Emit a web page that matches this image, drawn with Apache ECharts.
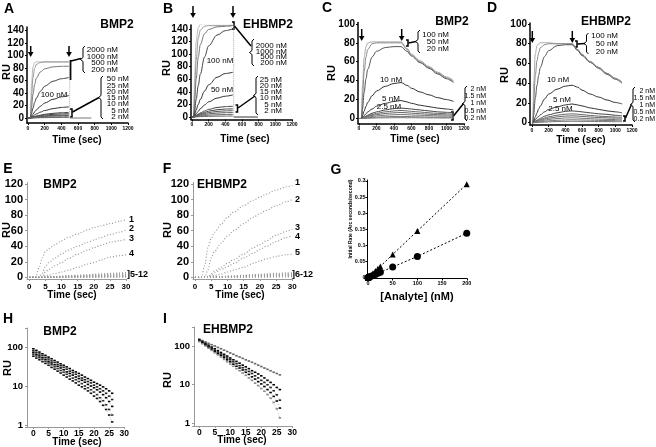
<!DOCTYPE html>
<html lang="en">
<head>
<meta charset="UTF-8">
<title>BMP2 / EHBMP2 binding</title>
<script src="https://cdn.jsdelivr.net/npm/echarts@6/dist/echarts.min.js"></script>
<style>
  html, body { margin: 0; padding: 0; background: #fff; }
  #main { width: 656px; height: 447px; }
</style>
</head>
<body>
<div id="main"></div>
<script>
// ---------- A : BMP2, high density ----------
const aTime = [0, 30, 40, 60, 80, 100, 150, 200, 300, 400, 490];
const aRU = [
  [0, 0, 50, 82, 89, 90, 90, 90, 90, 90, 90],        // 2000 nM
  [0, 0, 30, 65, 80, 86, 89, 90, 90, 90, 90],        // 1000
  [0, 0, 15, 38, 54, 64, 74, 79, 82, 83, 83],        // 500
  [0, 0, 6, 16, 25, 32, 43, 51, 59, 63, 65],         // 200
  [0, 0, 2, 6, 10, 13, 19, 24, 30, 34, 36],          // 100
  [0, 0, 1, 3, 5, 6.5, 9.5, 12, 15, 17, 18],         // 50
  [0, 0, 0.5, 1.5, 2.5, 3.2, 4.7, 6, 7.5, 8.5, 9],   // 25
  [0, 0, 0.4, 1.2, 2, 2.6, 3.7, 4.7, 5.9, 6.6, 7],   // 20
  [0, 0, 0.3, 0.9, 1.4, 1.9, 2.7, 3.4, 4.2, 4.7, 5], // 15
  [0, 0, 0.2, 0.7, 1.1, 1.5, 2.1, 2.7, 3.3, 3.7, 4], // 10
  [0, 0, 0.1, 0.3, 0.5, 0.7, 1, 1.3, 1.6, 1.8, 2],   // 5
  [0, 0, 0, 0.1, 0.2, 0.3, 0.5, 0.6, 0.8, 0.9, 1]    // 2
];
const aDrop = [[500, 91], [500, 0]];
const aBase = [[500, 0], [760, 0]];

// ---------- B : EHBMP2, high density ----------
const bTime = [0, 20, 30, 50, 75, 100, 150, 200, 300, 400, 490];
const bRU = [
  [0, 0, 60, 120, 142, 147, 148, 148, 148, 148, 148], // 2000 nM
  [0, 0, 35, 90, 125, 138, 144, 145, 145, 145, 146],  // 1000
  [0, 0, 20, 60, 95, 115, 132, 139, 143, 144, 145],   // 500
  [0, 0, 8, 28, 50, 68, 95, 113, 130, 137, 140],      // 200
  [0, 0, 3, 11, 20, 28, 41, 51, 63, 69, 71],          // 100
  [0, 0, 1, 5, 9, 13, 19, 24, 30, 33, 35],            // 50
  [0, 0, 0.5, 2.5, 4.5, 6.5, 9.5, 12, 15, 16.5, 17],  // 25
  [0, 0, 0.4, 2, 3.5, 5, 7.3, 9.2, 11.5, 12.6, 13],   // 20
  [0, 0, 0.3, 1.5, 2.7, 3.8, 5.6, 7, 8.8, 9.7, 10],   // 15
  [0, 0, 0.2, 1, 1.9, 2.7, 3.9, 4.9, 6.2, 6.8, 7],    // 10
  [0, 0, 0.1, 0.6, 1.1, 1.5, 2.2, 2.8, 3.5, 3.9, 4],  // 5
  [0, 0, 0, 0.2, 0.4, 0.6, 0.8, 1, 1.3, 1.4, 1.5]     // 2
];
const bDrop = [[500, 148], [500, 0]];
const bBase = [[500, 0], [790, 0]];

// ---------- C : BMP2, low density ----------
const cTime = [0, 30, 40, 60, 80, 100, 150, 200, 300, 400, 480, 550, 600, 700, 800, 900, 1000, 1080];
const cRU = [
  [0, 0, 35, 65, 76, 80, 81, 81, 81, 81, 81, 74, 68, 61, 55, 49, 44, 40],        // 100 nM
  [0, 0, 22, 50, 65, 73, 79, 80, 80, 80, 80, 73, 67, 60, 54, 48, 43, 39],        // 50
  [0, 0, 10, 28, 42, 52, 65, 71, 75, 76, 76, 71, 66, 59, 53, 47, 42, 38],        // 20
  [0, 0, 3, 8, 13, 17, 24, 29, 34, 37, 38, 35, 32, 28, 25, 22, 20, 18],          // 10
  [0, 0, 1, 3, 5, 7, 10, 13, 16, 18, 19, 17.5, 16, 14, 12.5, 11, 10, 9],         // 5
  [0, 0, 0.5, 1.5, 2.5, 3.5, 5.5, 7, 9, 10.5, 11, 10.5, 10, 9, 8, 7, 6.5, 6],    // 2.5
  [0, 0, 0.4, 1.2, 2, 2.8, 4.2, 5.4, 7, 8, 8.5, 8, 7.5, 6.8, 6, 5.4, 5, 4.5],    // 2
  [0, 0, 0.3, 0.9, 1.5, 2.1, 3.2, 4.1, 5.3, 6, 6.4, 6, 5.6, 5, 4.5, 4, 3.7, 3.4],// 1.5
  [0, 0, 0.2, 0.6, 1, 1.4, 2.1, 2.7, 3.5, 4, 4.3, 4, 3.7, 3.4, 3, 2.7, 2.5, 2.3],// 1
  [0, 0, 0.1, 0.3, 0.5, 0.7, 1.1, 1.4, 1.8, 2.1, 2.2, 2.1, 1.9, 1.7, 1.5, 1.4, 1.3, 1.2], // 0.5
  [0, 0, 0, 0.1, 0.2, 0.3, 0.4, 0.6, 0.7, 0.8, 0.9, 0.8, 0.8, 0.7, 0.6, 0.6, 0.5, 0.5]    // 0.2
];

// ---------- D : EHBMP2, low density ----------
const dTime = [0, 10, 20, 40, 60, 80, 100, 150, 200, 300, 400, 480, 550, 600, 700, 800, 900, 1000, 1080];
const dRU = [
  [0, 0, 40, 70, 78, 80, 81, 81, 81, 80, 80, 80, 74, 69, 62, 56, 50, 45, 41],         // 100 nM
  [0, 0, 20, 48, 63, 71, 76, 79, 80, 80, 80, 80, 74, 69, 62, 56, 50, 45, 41],         // 50
  [0, 0, 8, 25, 38, 48, 56, 67, 73, 78, 79, 79, 73, 68, 61, 55, 49, 44, 40],          // 20
  [0, 0, 2, 6, 10, 14, 17, 24, 29, 34, 37, 38, 36, 33, 29, 26, 23, 20.5, 19],         // 10
  [0, 0, 1, 3, 5, 6.5, 8, 11, 13.5, 16, 18, 19, 18, 17, 15, 13.5, 12, 11, 10],        // 5
  [0, 0, 0.5, 1.5, 2.5, 3.5, 4.5, 6.5, 8, 10, 11.5, 12, 11.5, 11, 10, 9, 8.5, 7.5, 7], // 2.5
  [0, 0, 0.4, 1.2, 2, 2.7, 3.4, 4.8, 6, 7.6, 8.6, 9, 8.6, 8.2, 7.4, 6.7, 6.2, 5.8, 5.5], // 2
  [0, 0, 0.3, 0.9, 1.5, 2, 2.6, 3.7, 4.6, 5.9, 6.7, 7, 6.7, 6.4, 5.8, 5.3, 4.9, 4.6, 4.4], // 1.5
  [0, 0, 0.2, 0.6, 1, 1.4, 1.8, 2.6, 3.3, 4.2, 4.8, 5, 4.8, 4.5, 4.1, 3.7, 3.4, 3.2, 3],   // 1
  [0, 0, 0.1, 0.4, 0.6, 0.8, 1, 1.5, 1.9, 2.5, 2.8, 3, 2.9, 2.8, 2.6, 2.4, 2.2, 2.1, 2],   // 0.5
  [0, 0, 0, 0.2, 0.3, 0.4, 0.5, 0.7, 0.9, 1.2, 1.4, 1.5, 1.4, 1.4, 1.3, 1.2, 1.1, 1.05, 1] // 0.2
];

// ---------- E / F : initial association (first 30 s) ----------
const eTime = [0, 2, 3, 4, 5, 6, 8, 10, 12, 15, 18, 20, 22, 25, 28, 30];
const eRU = [
  [0, 0, 12, 25, 33, 37, 42, 47, 51, 56, 61, 64, 66, 69, 72, 74],
  [0, 0, 0, 5, 14, 19, 25, 30, 35, 40, 45, 48, 51, 55, 58, 61],
  [0, 0, 0, 0, 7, 10, 15, 19, 24, 30, 35, 38, 41, 45, 47, 49],
  [0, 0, 0, 0, 2, 3, 5, 7, 9, 13, 17, 19, 22, 26, 28, 29],
  [0, 0, 0, 0, 0.5, 0.8, 1.2, 1.6, 2, 2.8, 3.5, 4, 4.5, 5.2, 5.8, 6.2],
  [0, 0, 0, 0, 0.4, 0.6, 1, 1.3, 1.6, 2.2, 2.8, 3.2, 3.6, 4.2, 4.7, 5],
  [0, 0, 0, 0, 0.3, 0.5, 0.8, 1, 1.3, 1.8, 2.2, 2.6, 2.9, 3.4, 3.8, 4],
  [0, 0, 0, 0, 0.2, 0.4, 0.6, 0.8, 1, 1.4, 1.8, 2, 2.3, 2.7, 3, 3.2],
  [0, 0, 0, 0, 0.2, 0.3, 0.5, 0.6, 0.8, 1, 1.3, 1.5, 1.7, 2, 2.2, 2.4],
  [0, 0, 0, 0, 0.1, 0.2, 0.3, 0.4, 0.5, 0.7, 0.9, 1, 1.1, 1.3, 1.5, 1.6],
  [0, 0, 0, 0, 0.1, 0.1, 0.2, 0.2, 0.3, 0.4, 0.5, 0.6, 0.7, 0.8, 0.9, 1],
  [0, 0, 0, 0, 0, 0.1, 0.1, 0.1, 0.2, 0.2, 0.3, 0.3, 0.4, 0.4, 0.5, 0.5]
];
const fRU = [
  [0, 0, 15, 38, 50, 58, 68, 77, 84, 92, 99, 103, 107, 112, 116, 118],
  [0, 0, 0, 10, 25, 33, 44, 53, 60, 69, 77, 82, 86, 92, 97, 100],
  [0, 0, 0, 0, 5, 8, 13, 18, 23, 30, 38, 42, 47, 54, 59, 62],
  [0, 0, 0, 0, 3, 6, 10, 14, 18, 25, 31, 36, 40, 46, 51, 54],
  [0, 0, 0, 0, 1.5, 2.5, 4.5, 7, 9.5, 13, 18, 21, 24, 27, 29, 30],
  [0, 0, 0, 0, 0.5, 0.8, 1.2, 1.6, 2, 2.8, 3.5, 4, 4.5, 5.2, 5.8, 6],
  [0, 0, 0, 0, 0.4, 0.6, 1, 1.3, 1.6, 2.2, 2.8, 3.2, 3.6, 4.2, 4.6, 5],
  [0, 0, 0, 0, 0.3, 0.5, 0.8, 1, 1.3, 1.8, 2.2, 2.6, 2.9, 3.4, 3.8, 4],
  [0, 0, 0, 0, 0.2, 0.4, 0.6, 0.8, 1, 1.4, 1.8, 2, 2.3, 2.7, 3, 3.2],
  [0, 0, 0, 0, 0.2, 0.3, 0.5, 0.6, 0.8, 1, 1.3, 1.5, 1.7, 2, 2.2, 2.4],
  [0, 0, 0, 0, 0.1, 0.2, 0.3, 0.4, 0.5, 0.7, 0.9, 1, 1.1, 1.3, 1.5, 1.6],
  [0, 0, 0, 0, 0, 0.1, 0.1, 0.2, 0.2, 0.3, 0.4, 0.5, 0.5, 0.6, 0.7, 0.8]
];

// ---------- G : initial rate vs analyte ----------
const gConc = [0, 0.2, 0.5, 1, 1.5, 2, 2.5, 5, 10, 15, 20, 25, 50, 100, 200];
const gEHBMP2 = [0, 0.0003, 0.0007, 0.0014, 0.002, 0.003, 0.0035, 0.007, 0.014, 0.021, 0.028, 0.035, 0.072, 0.145, 0.29];
const gBMP2 = [0, 0.0002, 0.0004, 0.0007, 0.001, 0.0014, 0.0017, 0.0035, 0.007, 0.010, 0.0135, 0.017, 0.033, 0.066, 0.138];

// ---------- H / I : dissociation, log scale ----------
const hTime = [0, 1, 2, 3, 4, 5, 6, 7, 8, 9, 10, 11, 12, 13, 14, 15, 16, 17, 18, 19, 20, 21, 22, 23, 24, 25, 26];
const hRU = [
  [90, 82, 74, 67, 61, 55, 50, 45, 41, 37, 34, 31, 28, 25, 23, 21, 19, 17, 15.5, 14, 12.5, 11.5, 10.5, 9.5, 8.5, 7.5, 6.5],
  [80, 73, 66, 60, 54, 49, 44, 40, 36, 33, 30, 27, 24, 22, 20, 18, 16, 14.5, 13, 12, 10.5, 9.5, 8.5, 7.5, 6.5, 5.5, 4.5],
  [72, 65, 59, 53, 48, 43, 39, 35, 32, 29, 26, 23, 21, 19, 17, 15.5, 14, 12.5, 11, 10, 9, 8, 7, 6, 5, 4, 3],
  [65, 59, 53, 48, 43, 39, 35, 31, 28, 25, 22.5, 20, 18, 16, 14.5, 13, 11.5, 10, 9, 8, 7, 6, 5, 4.2, 3.3, 2.5, 1.8],
  [58, 52, 47, 42, 38, 34, 30, 27, 24, 21.5, 19, 17, 15, 13.5, 12, 10.5, 9.5, 8.5, 7.5, 6.5, 5.5, 4.8, 4, 3.2, 2.5, 1.8, 1.2]
];
const iRU = [
  [150, 138, 127, 117, 108, 100, 92, 85, 78, 72, 66, 61, 56, 52, 48, 44, 41, 38, 35, 32, 29.5, 27, 25, 23, 21, 19.5, 18],
  [145, 130, 117, 105, 94, 85, 76, 68, 61, 55, 49, 44, 40, 36, 32, 29, 26, 23, 21, 19, 17, 15, 13, 11.5, 10, 8.5, 7.5],
  [140, 125, 111, 99, 88, 78, 70, 62, 55, 49, 44, 39, 35, 31, 27.5, 24.5, 22, 19.5, 17, 15, 13, 11.5, 10, 8.5, 7, 5.5, 4],
  [135, 119, 105, 93, 82, 72, 64, 57, 50, 44, 39, 34, 30, 27, 24, 21, 18.5, 16, 14, 12, 10.5, 9, 7.5, 6.3, 5, 3.8, 2.5],
  [130, 114, 100, 88, 77, 67, 59, 52, 45, 39, 34, 30, 26, 23, 20, 17.5, 15, 13, 11, 9.5, 8, 6.8, 5.6, 4.5, 3.5, 2.4, 1.4]
];

// tick labels
const sprTicks = [0, 200, 400, 600, 800, 1000, 1200];
const shortTicks = [0, 5, 10, 15, 20, 25, 30];
const gxTicks = [0, 50, 100, 150, 200];
const gyTicks = [0, 0.05, 0.1, 0.15, 0.2, 0.25, 0.3];

const FONT = '"Liberation Sans", Arial, sans-serif';

const chart = echarts.init(document.getElementById('main'), null, { renderer: 'canvas' });

function gridBox(left, top, width, height) {
  return { left, top, width, height, containLabel: false, outerBoundsMode: 'none' };
}

function valAxis(gi, min, max, ticks, o) {
  return {
    type: 'value', gridIndex: gi, min, max,
    axisLine: { onZero: false, lineStyle: { color: o.line, width: o.lw } },
    axisTick: { customValues: ticks, length: 2, lineStyle: { color: o.line, width: 1 } },
    axisLabel: { customValues: ticks, fontSize: o.fs, fontWeight: 'bold', fontFamily: FONT, color: '#000',
                 margin: o.margin, formatter: v => String(v) },
    splitLine: { show: false }
  };
}

function logAxis(gi, min, max, o) {
  return {
    type: 'log', logBase: 10, gridIndex: gi, min, max,
    axisLine: { onZero: false, lineStyle: { color: o.line, width: o.lw } },
    axisTick: { length: 2, lineStyle: { color: o.line } },
    axisLabel: {
      fontSize: o.fs, fontWeight: 'bold', fontFamily: FONT, color: '#000', margin: o.margin,
      formatter: v => ([1, 10, 100].some(p => Math.abs(v - p) < 1e-6 * p) ? String(Math.round(v)) : '')
    },
    splitLine: { show: false }, minorTick: { show: false }
  };
}

function sensorgrams(gi, times, rows, colors) {
  return rows.map((row, k) => ({
    type: 'line', xAxisIndex: gi, yAxisIndex: gi,
    data: times.map((t, i) => [t, row[i]]),
    showSymbol: false, smooth: 0.35, smoothMonotone: 'x', silent: true,
    lineStyle: { width: 1, color: colors[k] }
  }));
}

function dotted(gi, times, rows, color) {
  return rows.map(row => ({
    type: 'line', xAxisIndex: gi, yAxisIndex: gi,
    data: times.map((t, i) => [t, row[i]]),
    showSymbol: false, smooth: 0.3, smoothMonotone: 'x', silent: true,
    lineStyle: { width: 1.2, color, type: [1, 2] }
  }));
}

function decay(gi, rows, colors) {
  return rows.map((row, k) => ({
    type: 'line', xAxisIndex: gi, yAxisIndex: gi,
    data: hTime.map((t, i) => [t, row[i]]),
    symbol: 'rect', symbolSize: [2.5, 1.6], showSymbol: true, silent: true,
    itemStyle: { color: colors[k] },
    lineStyle: { width: 0.8, color: '#aaa', type: [1, 2] }
  }));
}

function plain(gi, data, color, width, type) {
  return { type: 'line', xAxisIndex: gi, yAxisIndex: gi, data, showSymbol: false, silent: true,
           lineStyle: { width, color, type: type || 'solid' } };
}

// ---- graphic helpers (annotations) ----
function txt(s, x, y, size, o) {
  o = o || {};
  const align = o.align || 'center';
  return {
    type: 'text', x, y, rotation: o.rot || 0, silent: true,
    style: {
      text: s, font: (o.bold ? 'bold ' : '') + size + 'px ' + FONT, fill: '#000',
      textAlign: align, align: align, textVerticalAlign: 'middle', verticalAlign: 'middle'
    }
  };
}
function brace(x, y0, y1) {
  const m = (y0 + y1) / 2;
  return { type: 'polyline', silent: true,
    shape: { points: [[x + 3, y0], [x + 1, y0 + 2], [x + 1, m - 2], [x - 1.5, m], [x + 1, m + 2], [x + 1, y1 - 2], [x + 3, y1]] },
    style: { stroke: '#000', lineWidth: 1, fill: null } };
}
function bracket(x, y0, y1) {
  return { type: 'polyline', silent: true, shape: { points: [[x - 2, y0], [x, y0], [x, y1], [x - 2, y1]] },
    style: { stroke: '#000', lineWidth: 1.5, fill: null } };
}
function seg(x1, y1, x2, y2, w) {
  return { type: 'line', silent: true, shape: { x1, y1, x2, y2 }, style: { stroke: '#000', lineWidth: w || 1.5 } };
}
function arrow(x, y0, y1) {
  return [
    seg(x, y0, x, y1 - 4, 1.5),
    { type: 'polygon', silent: true, shape: { points: [[x - 2.8, y1 - 5], [x + 2.8, y1 - 5], [x, y1]] }, style: { fill: '#000' } }
  ];
}
function labelStack(list, x, align, size) {
  return list.map(([s, y]) => txt(s, x, y, size || 8, { align }));
}

const grids = [
  gridBox(27, 27, 101, 96),        // A
  gridBox(191, 25, 101, 94.5),     // B
  gridBox(358, 22.5, 106, 101),    // C
  gridBox(530, 23, 102, 102),      // D
  gridBox(27, 182.5, 99, 96.5),    // E
  gridBox(193, 182.5, 99.3, 96.5), // F
  gridBox(367.5, 180, 99.5, 98.5), // G
  gridBox(27, 328, 97.3, 99),      // H
  gridBox(194, 327, 98.3, 99)      // I
];

const sprX = { line: '#000', lw: 1.5, fs: 5, margin: 3 };
const sprY = { line: '#000', lw: 1.5, fs: 10, margin: 3 };
const grayX = { line: '#999', lw: 1, fs: 8, margin: 4 };
const grayY = { line: '#999', lw: 1, fs: 11, margin: 4 };

const xAxes = [
  valAxis(0, -12, 1200, sprTicks, sprX),
  valAxis(1, -12, 1200, sprTicks, sprX),
  valAxis(2, -11, 1200, sprTicks, sprX),
  valAxis(3, -24, 1200, sprTicks, sprX),
  valAxis(4, -0.7, 30, shortTicks, grayX),
  valAxis(5, -0.6, 30, shortTicks, grayX),
  valAxis(6, -1, 200.5, gxTicks, { line: '#000', lw: 1, fs: 5.5, margin: 2 }),
  valAxis(7, -2.1, 30, shortTicks, { line: '#999', lw: 1, fs: 8.5, margin: 2 }),
  valAxis(8, -1.7, 30, shortTicks, { line: '#999', lw: 1, fs: 8.5, margin: 2 })
];
const yAxes = [
  valAxis(0, -8, 146, [0, 20, 40, 60, 80, 100, 120, 140], sprY),
  valAxis(1, -4, 146, [0, 20, 40, 60, 80, 100, 120, 140], sprY),
  valAxis(2, -5.3, 101.5, [0, 20, 40, 60, 80, 100], sprY),
  valAxis(3, -2.3, 101, [0, 20, 40, 60, 80, 100], sprY),
  valAxis(4, -2, 121.8, [0, 20, 40, 60, 80, 100, 120], grayY),
  valAxis(5, -2, 121.8, [0, 20, 40, 60, 80, 100, 120], grayY),
  valAxis(6, -0.0025, 0.303, gyTicks, { line: '#000', lw: 1, fs: 5.5, margin: 2 }),
  logAxis(7, 0.889, 307, { line: '#999', lw: 1, fs: 9.5, margin: 4 }),
  logAxis(8, 0.862, 309, { line: '#999', lw: 1, fs: 9.5, margin: 4 })
];

const abColors = ['#bbb', '#999', '#777', '#444', '#333', '#333', '#444', '#444', '#555', '#555', '#666', '#666'];
const cdColors = ['#aaa', '#888', '#555', '#333', '#333', '#444', '#666', '#666', '#777', '#777', '#777'];

const series = [].concat(
  sensorgrams(0, aTime, aRU, abColors),
  [plain(0, aDrop, '#aaa', 1, 'dotted'), plain(0, aBase, '#777', 1.2)],
  sensorgrams(1, bTime, bRU, abColors),
  [plain(1, bDrop, '#aaa', 1, 'dotted'), plain(1, bBase, '#999', 2)],
  sensorgrams(2, cTime, cRU, cdColors),
  sensorgrams(3, dTime, dRU, cdColors),
  dotted(4, eTime, eRU, '#999'),
  dotted(5, eTime, fRU, '#999'),
  [
    { type: 'line', xAxisIndex: 6, yAxisIndex: 6, data: gConc.map((c, i) => [c, gEHBMP2[i]]),
      symbol: 'triangle', symbolSize: 6, itemStyle: { color: '#000' }, silent: true,
      lineStyle: { color: '#000', width: 1, type: [2, 2] } },
    { type: 'line', xAxisIndex: 6, yAxisIndex: 6, data: gConc.map((c, i) => [c, gBMP2[i]]),
      symbol: 'circle', symbolSize: 7, itemStyle: { color: '#000' }, silent: true,
      lineStyle: { color: '#000', width: 1, type: [2, 2] } }
  ],
  decay(7, hRU, ['#000', '#222', '#000', '#333', '#111']),
  decay(8, iRU, ['#666', '#000', '#222', '#000', '#888'])
);

const graphic = [].concat(
  // panel letters
  txt('A', 9, 9, 14, { bold: true }), txt('B', 168, 9, 14, { bold: true }),
  txt('C', 327, 8, 14, { bold: true }), txt('D', 492, 8, 14, { bold: true }),
  txt('E', 8, 169, 14, { bold: true }), txt('F', 167, 169, 14, { bold: true }),
  txt('G', 336, 170, 14, { bold: true }), txt('H', 8, 319, 14, { bold: true }),
  txt('I', 165, 319, 14, { bold: true }),
  // protein titles
  txt('BMP2', 117, 25, 12, { bold: true }), txt('EHBMP2', 268, 25, 12, { bold: true }),
  txt('BMP2', 452, 22, 12, { bold: true }), txt('EHBMP2', 606, 22, 12, { bold: true }),
  txt('BMP2', 60, 185, 12, { bold: true }), txt('EHBMP2', 222, 185, 12, { bold: true }),
  txt('BMP2', 60, 332, 12, { bold: true }), txt('EHBMP2', 228, 330, 12, { bold: true }),
  // axis titles
  txt('RU', 7, 72, 11, { bold: true, rot: Math.PI / 2 }), txt('RU', 167, 68, 11, { bold: true, rot: Math.PI / 2 }),
  txt('RU', 332, 73, 11, { bold: true, rot: Math.PI / 2 }), txt('RU', 505, 75, 11, { bold: true, rot: Math.PI / 2 }),
  txt('RU', 7, 230, 11, { bold: true, rot: Math.PI / 2 }), txt('RU', 168, 230, 11, { bold: true, rot: Math.PI / 2 }),
  txt('RU', 8, 368, 11, { bold: true, rot: Math.PI / 2 }), txt('RU', 168, 380, 11, { bold: true, rot: Math.PI / 2 }),
  txt('Time (sec)', 77, 140, 10, { bold: true }), txt('Time (sec)', 245, 139, 10, { bold: true }),
  txt('Time (sec)', 415, 139, 10, { bold: true }), txt('Time (sec)', 581, 140, 10, { bold: true }),
  txt('Time (sec)', 72, 295, 10, { bold: true }), txt('Time (sec)', 240, 295, 10, { bold: true }),
  txt('Time (sec)', 77, 442, 10, { bold: true }), txt('Time (sec)', 242, 440, 10, { bold: true }),
  txt('[Analyte] (nM)', 417, 297, 11, { bold: true }),
  txt('Initial Rate (Arc seconds/second)', 351, 219, 5, { bold: true, rot: Math.PI / 2 }),
  // A annotations
  arrow(30.7, 46, 57), arrow(69, 46, 57),
  labelStack([['2000 nM', 49.3], ['1000 nM', 56.3], ['500 nM', 63], ['200 nM', 70]], 118, 'right'),
  labelStack([['50 nM', 79], ['25 nM', 85.5], ['20 nM', 91.5], ['15 nM', 97.7], ['10 nM', 104], ['5 nM', 110.5], ['2 nM', 117]], 129, 'right'),
  brace(82, 46, 73), brace(100, 76, 119),
  seg(70.5, 60, 70.5, 80, 1.8), seg(71, 61, 81, 58.5),
  bracket(72, 109, 117), seg(72.5, 112, 99, 97.5),
  txt('100 nM', 54, 95, 8),
  // B annotations
  arrow(193, 6, 18), arrow(233, 6, 18),
  labelStack([['2000 nM', 46], ['1000 nM', 51.5], ['500 nM', 57], ['200 nM', 62.5]], 287, 'right'),
  labelStack([['25 nM', 79.3], ['20 nM', 85.5], ['15 nM', 91.7], ['10 nM', 98], ['5 nM', 104.5], ['2 nM', 111]], 282, 'right'),
  brace(251, 39, 66), brace(255, 76, 115),
  bracket(234, 22, 29), seg(234.5, 26, 251, 46),
  bracket(237.5, 105, 112), seg(238, 108, 255, 96),
  txt('100 nM', 220, 60.5, 8), txt('50 nM', 222, 90, 8),
  // C annotations
  arrow(361.7, 29, 41), arrow(401.7, 29, 41),
  labelStack([['100 nM', 34.3], ['50 nM', 41.7], ['20 nM', 49]], 449, 'right'),
  brace(417, 30, 53),
  bracket(408, 40, 46), seg(408.5, 43, 416, 41.5),
  txt('10 nM', 391, 80, 8), txt('5 nM', 391, 98.7, 8), txt('2.5 nM', 389, 107, 8),
  labelStack([['2 nM', 89], ['1.5 nM', 96.3], ['1 nM', 103.5], ['0.5 nM', 110.7], ['0.2 nM', 118]], 486, 'right', 7),
  brace(464, 86, 121),
  bracket(453, 112, 120), seg(453.5, 116, 463.5, 103.5),
  // D annotations
  arrow(532.3, 31, 43), arrow(572.3, 31, 43),
  labelStack([['100 nM', 36], ['50 nM', 43.3], ['20 nM', 51.7]], 618, 'right'),
  brace(585.5, 33, 54),
  bracket(577, 41, 47), seg(577.5, 44, 585, 43.5),
  txt('10 nM', 558, 80, 8), txt('5 nM', 562, 100, 8), txt('2.5 nM', 560.5, 109, 8),
  labelStack([['2 nM', 90.7], ['1.5 nM', 97.7], ['1 nM', 105], ['0.5 nM', 112], ['0.2 nM', 119]], 655, 'right', 7),
  brace(632, 87, 122),
  bracket(625, 116, 121), seg(625.5, 118, 631.5, 104.5),
  // E / F curve numbers
  txt('1', 129, 220, 9, { bold: true, align: 'left' }), txt('2', 129, 229, 9, { bold: true, align: 'left' }),
  txt('3', 129, 239, 9, { bold: true, align: 'left' }), txt('4', 129, 254, 9, { bold: true, align: 'left' }),
  txt(']5-12', 127, 275, 9, { bold: true, align: 'left' }),
  txt('1', 295, 183, 9, { bold: true, align: 'left' }), txt('2', 295, 200, 9, { bold: true, align: 'left' }),
  txt('3', 295, 228, 9, { bold: true, align: 'left' }), txt('4', 295, 237, 9, { bold: true, align: 'left' }),
  txt('5', 295, 253, 9, { bold: true, align: 'left' }),
  txt(']6-12', 292, 275, 9, { bold: true, align: 'left' })
);

chart.setOption({
  animation: false,
  backgroundColor: '#fff',
  grid: grids,
  xAxis: xAxes,
  yAxis: yAxes,
  series,
  graphic: { elements: graphic }
});
</script>
</body>
</html>
